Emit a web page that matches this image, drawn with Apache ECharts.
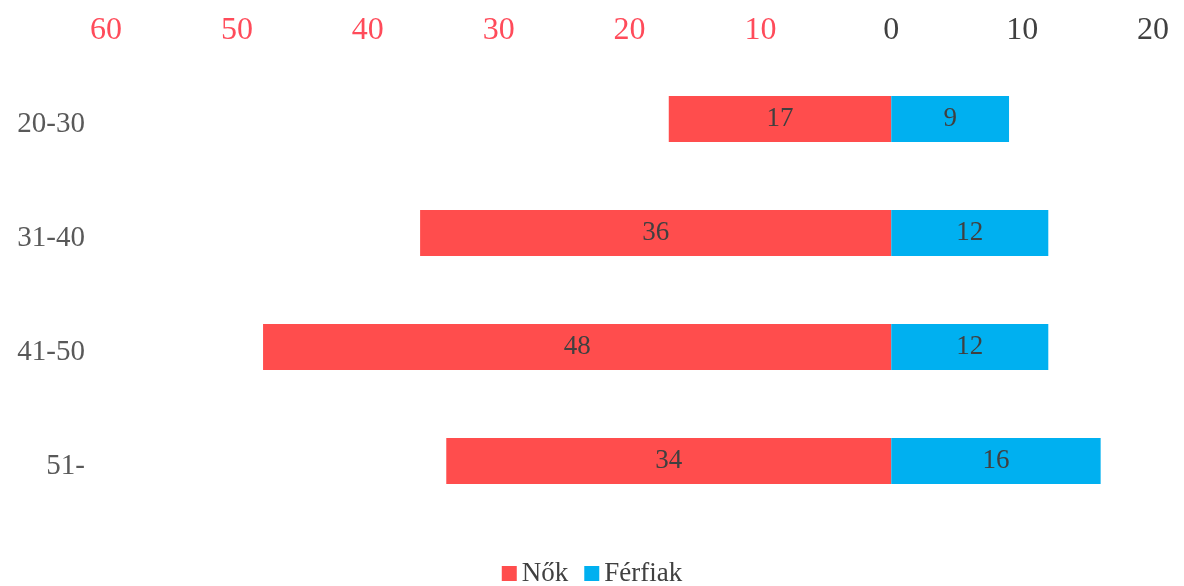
<!DOCTYPE html>
<html><head><meta charset="utf-8">
<script src="https://cdn.jsdelivr.net/npm/echarts@6/dist/echarts.min.js"></script>
<style>html,body{margin:0;padding:0;background:#fff}#c{width:1184px;height:586px}</style>
</head><body><div id="c"></div>
<script>
const categories = ['20-30', '31-40', '41-50', '51-'];
const nok = [17, 36, 48, 34];
const ferfiak = [9, 12, 12, 16];
const seriesNames = ['Nők', 'Férfiak'];

const FONT = '"Liberation Serif", "DejaVu Serif", serif';
const chart = echarts.init(document.getElementById('c'));
chart.setOption({
  animation: false,
  backgroundColor: '#ffffff',
  textStyle: { fontFamily: FONT },
  grid: { left: 106, right: 31, top: 62, height: 456, containLabel: false },
  legend: {
    top: 555, left: 'center',
    itemWidth: 15, itemHeight: 15, itemGap: 16,
    icon: 'rect',
    textStyle: { fontFamily: FONT, fontSize: 27, color: '#404040' },
    data: seriesNames
  },
  xAxis: {
    type: 'value', position: 'top', min: -60, max: 20, interval: 10,
    axisLine: { show: false }, axisTick: { show: false }, splitLine: { show: false },
    axisLabel: {
      margin: 15, fontFamily: FONT, fontSize: 32,
      formatter: v => String(Math.abs(v)),
      color: v => (v < 0 ? '#FF4B5A' : '#404040')
    }
  },
  yAxis: {
    type: 'category', data: categories, inverse: true,
    axisLine: { show: false }, axisTick: { show: false },
    axisLabel: {
      margin: 21, fontFamily: FONT, fontSize: 29, color: '#595959',
      formatter: v => '{a|' + v + '}',
      rich: { a: { fontFamily: FONT, fontSize: 29, color: '#595959', padding: [10, 0, 0, 0] } }
    }
  },
  series: [
    {
      name: seriesNames[0], type: 'bar', stack: 'a', barWidth: 46,
      itemStyle: { color: '#FF4D4D' },
      label: { show: true, position: 'inside', fontFamily: FONT, fontSize: 27, color: '#404040',
        formatter: p => String(Math.abs(p.value)) },
      data: nok.map(v => -v)
    },
    {
      name: seriesNames[1], type: 'bar', stack: 'a', barWidth: 46,
      itemStyle: { color: '#00B0F0' },
      label: { show: true, position: 'inside', fontFamily: FONT, fontSize: 27, color: '#404040' },
      data: ferfiak
    }
  ]
});
</script></body></html>
